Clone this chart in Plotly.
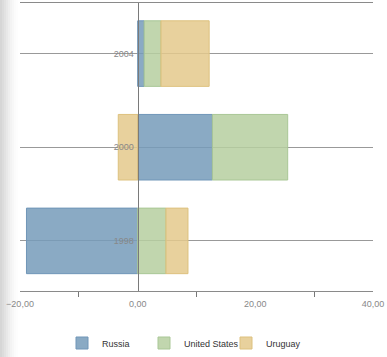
import plotly.graph_objects as go

categories = ["1998", "2000", "2004"]
russia = [-18.9, 12.7, 1.1]
united_states = [4.8, 12.8, 2.85]
uruguay = [3.75, -3.3, 8.2]
x_tick_values = [-20, 0, 20, 40]

W, H = 387, 357
ML, MR, MT, MB = 20, 14, 3, 66
plot_w = W - ML - MR
plot_h = H - MT - MB

ALPHA = 0.85


def on_white(hex_color, a=ALPHA):
    h = hex_color.lstrip("#")
    t = [int(h[i:i + 2], 16) for i in (0, 2, 4)]
    c = [max(0, min(255, round(255 - (255 - v) / a))) for v in t]
    return f"rgba({c[0]},{c[1]},{c[2]},{a})"


series = [
    ("Russia", russia, "#8aaac4", "#7096b8"),
    ("United States", united_states, "#c1d6ae", "#a9c796"),
    ("Uruguay", uruguay, "#e8d19d", "#ddc17e"),
]

fig = go.Figure()
for name, vals, fill, line in series:
    fig.add_trace(go.Bar(
        y=categories, x=vals, name=name, orientation="h",
        marker=dict(color=on_white(fill), line=dict(color=line, width=1)),
        hoverinfo="skip",
    ))

# left page shadow (decoration)
shapes = []
shades = ["#d6d6d6", "#dcdcdc", "#e2e2e2", "#e8e8e8", "#eeeeee", "#f3f3f3", "#f7f7f7", "#fbfbfb", "#fdfdfd"]
for i, c in enumerate(shades):
    shapes.append(dict(
        type="rect", xref="paper", yref="paper",
        x0=(-ML + i * 2) / plot_w, x1=(-ML + i * 2 + 2) / plot_w,
        y0=-MB / plot_h, y1=1 + MT / plot_h,
        fillcolor=c, line=dict(width=0), layer="below",
    ))

zero_pos = (0 - (-20)) / 60

fig.update_layout(
    width=W, height=H,
    margin=dict(l=ML, r=MR, t=MT, b=MB, pad=0, autoexpand=False),
    paper_bgcolor="white", plot_bgcolor="white",
    barmode="relative", bargap=0.3,
    separators=", ",
    hovermode=False,
    font=dict(family="Liberation Sans, Arial, sans-serif", size=9, color="#888"),
    shapes=shapes,
    xaxis=dict(
        range=[-20, 40], tickvals=x_tick_values, tickformat=".2f",
        showgrid=False, zeroline=False, automargin=False,
        showline=True, linecolor="#8a8a8a", linewidth=1, mirror=True,
        ticks="", ticklabelstandoff=4, tickfont=dict(size=9, color="#888"),
        minor=dict(tick0=-10, dtick=20, ticks="outside", ticklen=5, tickcolor="#777", showgrid=False),
    ),
    yaxis=dict(
        type="category", categoryorder="array", categoryarray=categories,
        range=[-0.535, 2.54], automargin=False,
        anchor="free", position=zero_pos, layer="above traces",
        showline=True, linecolor="#7a7a7a", linewidth=1,
        showgrid=True, gridcolor="#999", gridwidth=1,
        zeroline=False, ticks="", ticklabelstandoff=2,
        tickfont=dict(size=9, color="#888"),
    ),
    legend=dict(
        orientation="h", x=(62 - ML) / plot_w, xanchor="left",
        y=-(343 - (H - MB)) / plot_h, yanchor="middle",
        font=dict(size=9, color="#333"),
        itemwidth=30, traceorder="normal",
        entrywidth=37, entrywidthmode="pixels",
    ),
    showlegend=True,
)

fig.write_html(
    "out.html",
    config={"displayModeBar": False, "staticPlot": True},
    post_script="document.body.style.margin='0';document.body.style.padding='0';",
)
